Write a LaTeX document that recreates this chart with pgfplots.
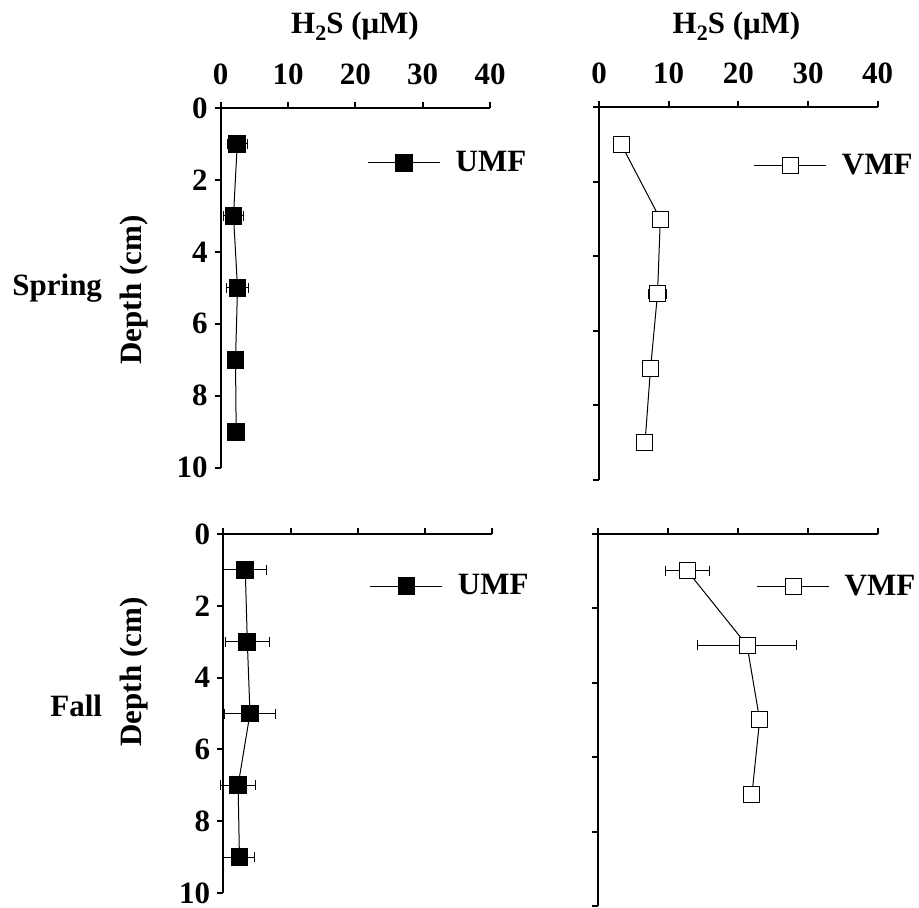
\documentclass[border=0pt]{standalone}
\usepackage{fontspec}
\setmainfont{Liberation Serif}
\usepackage{pgfplots}
\usepackage{pgfplotstable}
\pgfplotsset{compat=1.18}

\newcommand\ff{\fontsize{15.5}{18}\selectfont\bfseries}
\newcommand\HtwoS{H\raisebox{-3.5pt}{\fontsize{11}{11}\selectfont 2}S (μM)}

% depth (cm), H2S (uM), standard error
\pgfplotstableread{
d x e
1 2.46 1.5
3 1.90 1.45
5 2.50 1.6
7 2.20 0.5
9 2.30 1.3
}\springUMF
\pgfplotstableread{
d x e
1 3.2 0.3
3 8.8 0.5
5 8.4 1.3
7 7.4 0.5
9 6.6 0.3
}\springVMF
\pgfplotstableread{
d x e
1 3.27 3.2
3 3.57 3.25
5 3.97 3.75
7 2.20 2.6
9 2.40 2.3
}\fallUMF
\pgfplotstableread{
d x e
1 12.75 3.15
3 21.3 7.1
5 23.1 0.5
7 22.0 0.5
}\fallVMF

\pgfplotsset{
  profile/.style={
    scale only axis, clip=false,
    xmin=0, xmax=40, ymin=0, ymax=10, y dir=reverse,
    axis x line=top, axis y line=left,
    axis line style={-, line width=1pt},
    xtick={0,10,...,40}, ytick={0,2,...,10},
    tick align=outside, major tick length=3pt,
    tick style={line width=1pt, black},
    /pgf/number format/assume math mode=true,
    tick label style={font=\ff},
    xticklabel style={yshift=5pt},
    legend style={draw=none, fill=none, font=\ff, anchor=west,
      inner sep=0pt, outer sep=0pt},
    legend image code/.code={%
      \draw[mark repeat=2, mark phase=2, ##1]
        plot coordinates {(0pt,0pt) (18pt,0pt) (36pt,0pt)};
      \path (41.5pt,0pt);},
  },
  umf/.style={black, line width=0.5pt, mark=square*,
    mark size=4.2pt, mark options={solid, fill=black},
    error bars/.cd, x dir=both, x explicit,
    error bar style={line width=0.5pt},
    error mark options={rotate=90, mark size=2.5pt, line width=0.5pt}},
  vmf/.style={black, line width=0.5pt, mark=square*,
    mark size=4pt, mark options={solid, fill=white},
    error bars/.cd, x dir=both, x explicit,
    error bar style={line width=0.5pt},
    error mark options={rotate=90, mark size=2.5pt, line width=0.5pt}},
}

\begin{document}
\begin{tikzpicture}
\useasboundingbox (0,0) rectangle (459.5pt,-453.5pt);

% Spring, UMF
\begin{axis}[profile, at={(110.35pt,-54pt)}, anchor=north west,
  width=134.65pt, height=179.85pt,
  legend style={at={(0.546,0.848)}}]
  \addplot+[umf] table[x=x, y=d, x error=e] {\springUMF};
  \addlegendentry{UMF}
\end{axis}

% Spring, VMF
\begin{axis}[profile, at={(299.5pt,-53.65pt)}, anchor=north west,
  width=139.35pt, height=186.35pt, yticklabels={},
  legend style={at={(0.556,0.843)}}]
  \addplot+[vmf] table[x=x, y=d, x error=e] {\springVMF};
  \addlegendentry{VMF}
\end{axis}

% Fall, UMF
\begin{axis}[profile, at={(111.65pt,-267pt)}, anchor=north west,
  width=134.5pt, height=179.5pt, xticklabels={},
  legend style={at={(0.545,0.855)}}]
  \addplot+[umf] table[x=x, y=d, x error=e] {\fallUMF};
  \addlegendentry{UMF}
\end{axis}

% Fall, VMF
\begin{axis}[profile, at={(299.15pt,-266.85pt)}, anchor=north west,
  width=139.7pt, height=186.15pt, xticklabels={}, yticklabels={},
  legend style={at={(0.567,0.858)}}]
  \addplot+[vmf] table[x=x, y=d, x error=e] {\fallVMF};
  \addlegendentry{VMF}
\end{axis}

% titles and labels
\node[font=\ff, anchor=base] at (177.5pt,-16.65pt) {\HtwoS};
\node[font=\ff, anchor=base] at (368.25pt,-16.65pt) {\HtwoS};
\node[font=\ff, rotate=90] at (67pt,-145pt) {Depth (cm)};
\node[font=\ff, rotate=90] at (67pt,-336pt) {Depth (cm)};
\node[font=\ff, anchor=base west, inner sep=0pt] at (6pt,-147.5pt) {Spring};
\node[font=\ff, anchor=base west, inner sep=0pt] at (25pt,-358pt) {Fall};
\end{tikzpicture}
\end{document}
